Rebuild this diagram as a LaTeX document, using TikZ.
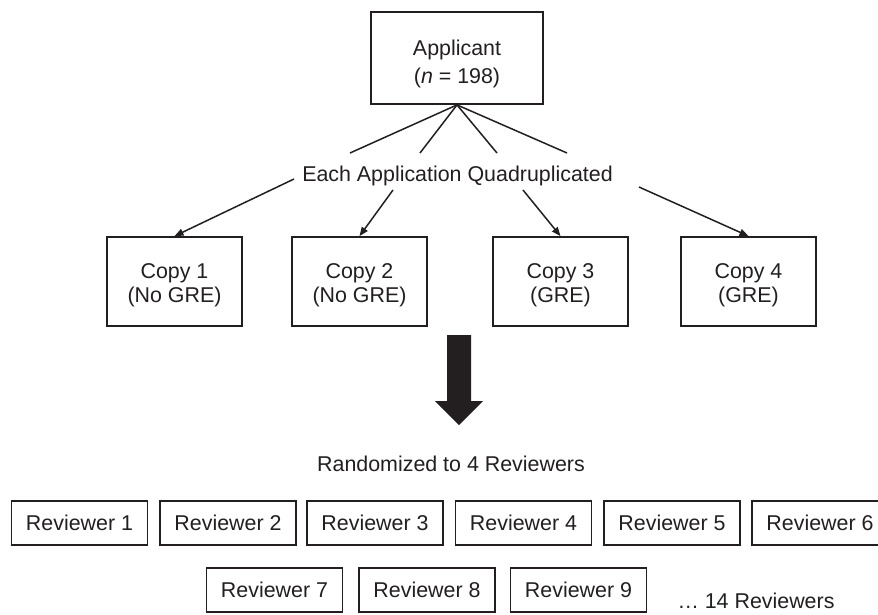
\documentclass[tikz,border=0pt]{standalone}
\usepackage{fontspec}
\setmainfont{Liberation Sans}
\usetikzlibrary{arrows.meta}
\definecolor{ink}{HTML}{231F20}
\newcommand{\upstrut}[1]{\rule{0pt}{#1}}
\begin{document}
\begin{tikzpicture}[x=1pt,y=-1pt,
  every node/.style={text=ink, font=\fontsize{21.4}{24}\selectfont},
  boxbase/.style={draw=ink, line width=1.8pt, inner sep=0pt, align=center},
  appbox/.style={boxbase, minimum width=172pt, minimum height=92pt, font=\fontsize{21.4}{28}\selectfont},
  copybox/.style={boxbase, minimum width=135pt, minimum height=89pt},
  revbox/.style={boxbase, minimum width=136pt, minimum height=44pt, text height=15.3pt, text depth=0pt},
  plain/.style={inner sep=0pt, text height=15.3pt, text depth=0pt},
  conn/.style={draw=ink, line width=1.5pt},
  arr/.style={conn, -{Triangle[length=9pt,width=7pt]}}
]
\useasboundingbox (0,0) rectangle (878,614);
\fill[white] (0,0) rectangle (878,614);

% top box
\node[appbox] (app) at (457,58) {\upstrut{26.8pt}Applicant\\(\textit{n} = 198)};

% label
\node[plain] (quad) at (457.5,174) {Each Application Quadruplicated};

% lines into the label
\coordinate (q1) at (350,153);
\coordinate (q2) at (420,153);
\coordinate (q3) at (497,153);
\coordinate (q4) at (567,153);
\foreach \q in {q1,q2,q3,q4} \draw[conn] (app.south) -- (\q);

% copies
\node[copybox] (c1) at (174.5,281.5) {\upstrut{21.8pt}Copy 1\\(No GRE)};
\node[copybox] (c2) at (359.5,281.5) {\upstrut{21.8pt}Copy 2\\(No GRE)};
\node[copybox] (c3) at (560.5,281.5) {\upstrut{21.8pt}Copy 3\\(GRE)};
\node[copybox] (c4) at (748.5,281.5) {\upstrut{21.8pt}Copy 4\\(GRE)};

\coordinate (s1) at (294,179);
\coordinate (s2) at (393,190);
\coordinate (s3) at (523,190);
\coordinate (s4) at (639,187);
\draw[arr] (s1) -- (c1.north);
\draw[arr] (s2) -- (c2.north);
\draw[arr] (s3) -- (c3.north);
\draw[arr] (s4) -- (c4.north);

% big arrow
\fill[ink] (447,335) -- (471,335) -- (471,401) -- (483,401) -- (459,425) -- (435,401) -- (447,401) -- cycle;

\node[plain] (rand) at (451,464) {Randomized to 4 Reviewers};

% reviewers row 1
\node[revbox] (r1) at (79.5,523) {Reviewer 1};
\node[revbox] (r2) at (228,523) {Reviewer 2};
\node[revbox] (r3) at (375,523) {Reviewer 3};
\node[revbox] (r4) at (523.5,523) {Reviewer 4};
\node[revbox] (r5) at (672,523) {Reviewer 5};
\node[revbox] (r6) at (820,523) {Reviewer 6};

% reviewers row 2
\node[revbox] (r7) at (274.5,590) {Reviewer 7};
\node[revbox] (r8) at (427,590) {Reviewer 8};
\node[revbox] (r9) at (578.5,590) {Reviewer 9};
\node[plain] (more) at (756,601) {… 14 Reviewers};
\end{tikzpicture}
\end{document}
